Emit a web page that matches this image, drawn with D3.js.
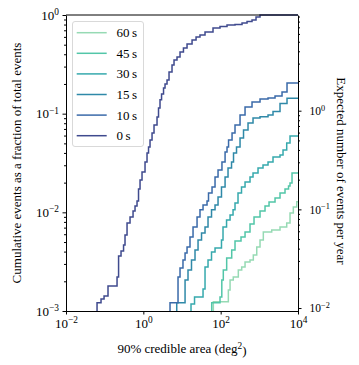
<!DOCTYPE html>
<html>
<head>
<meta charset="utf-8">
<script src="https://cdn.jsdelivr.net/npm/d3@7"></script>
<style>
  body { margin: 0; background: #fff; }
  svg text { font-family: "Liberation Serif", "DejaVu Serif", serif; fill: #000; }
</style>
</head>
<body>
<div id="chart"></div>
<script>
// cumulative fraction of events vs 90% credible area (deg^2), one step curve per pre-merger time
const labels = ["60\u2009s", "45\u2009s", "30\u2009s", "15\u2009s", "10\u2009s", "0\u2009s"];

const cdf60 = [[64.6,0.00124],[158,0.00163],[175,0.00206],[212,0.00221],[286,0.00261],[350,0.00279],[427,0.00314],[574,0.00329],[699,0.0037],[857,0.00445],[1042,0.00525],[1268,0.00632],[2090,0.00662],[3428,0.0071],[5105,0.0078],[6220,0.00985],[7570,0.0113],[9270,0.0128]];
const cdf45 = [[58.7,0.00121],[96.2,0.00139],[107,0.00206],[117,0.00261],[143,0.00345],[193,0.00415],[235,0.00513],[336,0.00562],[427,0.00632],[574,0.00762],[729,0.00897],[1042,0.0103],[1403,0.0116],[1782,0.0127],[2547,0.014],[3428,0.0157],[4616,0.0172],[5689,0.0185],[6220,0.0198],[7004,0.025]];
const cdf30 = [[17.1,0.00118],[21.1,0.00139],[35.0,0.00167],[39.4,0.00279],[47.1,0.00329],[58.0,0.00396],[71.5,0.00435],[105,0.00525],[115,0.0071],[142,0.00836],[175,0.0094],[209,0.0106],[235,0.0124],[281,0.0157],[346,0.0181],[427,0.0203],[574,0.0228],[687,0.025],[925,0.0281],[1245,0.0302],[1679,0.0324],[2259,0.0364],[3428,0.0381],[4100,0.0428],[5105,0.0504],[6220,0.0594]];
const cdf15 = [[7.31,0.00121],[12.0,0.00206],[14.3,0.00261],[17.6,0.00329],[21.7,0.00415],[26.0,0.00525],[32.0,0.00618],[39.4,0.0071],[47.1,0.00897],[58.0,0.0106],[71.5,0.0119],[85.5,0.0143],[105,0.0181],[130,0.0228],[155,0.0281],[191,0.0324],[215,0.0399],[257,0.0459],[317,0.0567],[390,0.0683],[510,0.0805],[687,0.0904],[1042,0.0932],[1679,0.097],[2259,0.105],[3428,0.127],[5200,0.143]];
const cdf10 = [[4.90,0.00121],[7.89,0.00221],[8.89,0.00273],[10.6,0.00329],[12.0,0.00387],[13.5,0.00445],[16.1,0.00562],[19.3,0.0071],[24.5,0.00897],[29.2,0.0106],[35.0,0.0119],[44.4,0.013],[48.5,0.0157],[59.8,0.0181],[71.5,0.0228],[85.5,0.0269],[108,0.0324],[130,0.0409],[146,0.0459],[160,0.0541],[197,0.0637],[235,0.0768],[317,0.097],[427,0.117],[647,0.131],[1042,0.141],[1679,0.144],[2547,0.151],[3864,0.166],[5200,0.205]];
const cdf0 = [[0.0635,0.00121],[0.0805,0.00132],[0.0964,0.00142],[0.122,0.00179],[0.209,0.00221],[0.229,0.00361],[0.265,0.00406],[0.308,0.00467],[0.336,0.00589],[0.379,0.0078],[0.453,0.00897],[0.542,0.0103],[0.61,0.0116],[0.687,0.013],[0.751,0.0172],[0.822,0.0213],[0.925,0.0256],[1.106,0.0324],[1.246,0.0399],[1.363,0.0459],[1.49,0.0541],[1.68,0.0637],[1.89,0.0768],[2.26,0.0925],[2.47,0.114],[2.70,0.138],[2.96,0.158],[3.33,0.182],[3.64,0.200],[4.10,0.219],[4.62,0.264],[5.52,0.311],[6.22,0.350],[7.43,0.375],[8.89,0.422],[10.9,0.463],[13.5,0.508],[18.2,0.558],[23.1,0.598],[29.2,0.627],[39.4,0.673],[63.4,0.738],[96.2,0.765],[146,0.792],[235,0.801],[357,0.830],[481,0.859],[647,0.890],[821,0.954],[1042,1.0]];

const curves = [cdf60, cdf45, cdf30, cdf15, cdf10, cdf0];

// total expected events per year (fraction 1 on the right axis)
const totalRate = 9.33;

const xTicks = [1e-2, 1e0, 1e2, 1e4];
const yTicks = [1e-3, 1e-2, 1e-1, 1e0];
const rateTicks = [1e-2, 1e-1, 1e0];

const colors = ["#96dab4", "#52c6a8", "#36a9ad", "#2f89a8", "#3a6aa9", "#3f4a8e"];
const serif = '"Liberation Serif", "DejaVu Serif", serif';

const margin = { top: 15, right: 61, bottom: 54, left: 66 };
const width = 359 - margin.left - margin.right;
const height = 365 - margin.top - margin.bottom;

const svg = d3.select("#chart")
    .append("svg")
    .attr("width", 359)
    .attr("height", 365)
    .attr("font-family", serif);

const g = svg.append("g")
    .attr("transform", `translate(${margin.left},${margin.top})`);

const x = d3.scaleLog().domain([1e-2, 1e4]).range([0, width]);
const y = d3.scaleLog().domain([1e-3, 1]).range([height, 0]);
const yRate = d3.scaleLog().domain([1e-3 * totalRate, totalRate]).range([height, 0]);

// 10^n labels with a raised exponent
function powLabel(sel) {
    sel.each(function(d) {
        const t = d3.select(this);
        const e = Math.round(Math.log10(d));
        t.text(null);
        t.append("tspan").text("10");
        t.append("tspan").attr("dy", "-0.5em").attr("font-size", "0.72em")
            .text(e < 0 ? "\u2212" + (-e) : String(e));
    });
}

function minorValues(lo, hi) {
    const out = [];
    for (let p = Math.floor(Math.log10(lo)); p <= Math.ceil(Math.log10(hi)); p++) {
        for (let k = 2; k <= 9; k++) {
            const v = k * Math.pow(10, p);
            if (v >= lo && v <= hi) out.push(v);
        }
    }
    return out;
}

// curves
g.append("clipPath").attr("id", "clip")
    .append("rect").attr("x", 0).attr("y", -1).attr("width", width).attr("height", height + 1);

const line = d3.line()
    .x(d => x(d[0]))
    .y(d => d[1] === 0 ? height + 3 : y(d[1]))
    .curve(d3.curveStepAfter);

const plot = g.append("g").attr("clip-path", "url(#clip)");

curves.forEach((c, i) => {
    const pts = [[c[0][0], 0]].concat(c, [[1e4, c[c.length - 1][1]]]);
    plot.append("path")
        .datum(pts)
        .attr("fill", "none")
        .attr("stroke", colors[i])
        .attr("stroke-width", 1.5)
        .attr("d", line);
});

// axes
const fontSize = 13;

const xAxis = g.append("g")
    .attr("transform", `translate(0,${height})`)
    .call(d3.axisBottom(x).tickValues(xTicks).tickSize(3.5).tickPadding(4).tickSizeOuter(0));
xAxis.selectAll("text").attr("font-size", fontSize).call(powLabel);

const yAxis = g.append("g")
    .call(d3.axisLeft(y).tickValues(yTicks).tickSize(3.5).tickPadding(3.5).tickSizeOuter(0));
yAxis.selectAll("text").attr("font-size", fontSize).call(powLabel);

g.append("g")
    .call(d3.axisLeft(y).tickValues(minorValues(1e-3, 1)).tickSize(2).tickFormat("").tickSizeOuter(0))
    .select(".domain").remove();

const rAxis = g.append("g")
    .attr("transform", `translate(${width},0)`)
    .call(d3.axisRight(yRate).tickValues(rateTicks).tickSize(3.5).tickPadding(8).tickSizeOuter(0));
rAxis.selectAll("text").attr("font-size", 11.5).call(powLabel);

g.append("g")
    .attr("transform", `translate(${width},0)`)
    .call(d3.axisRight(yRate).tickValues(minorValues(1e-3 * totalRate, totalRate)).tickSize(2).tickFormat("").tickSizeOuter(0))
    .select(".domain").remove();

g.append("line")
    .attr("x1", 0).attr("x2", width).attr("y1", 0).attr("y2", 0)
    .attr("stroke", "#000");

g.selectAll("g").attr("font-family", serif);
g.selectAll(".domain").attr("stroke", "#000");
g.selectAll(".tick line").attr("stroke", "#000");

// axis titles
const xTitle = svg.append("text")
    .attr("x", margin.left + width / 2)
    .attr("y", 353)
    .attr("text-anchor", "middle")
    .attr("font-size", fontSize);
xTitle.append("tspan").text("90% credible area (deg");
xTitle.append("tspan").attr("dy", "-0.45em").attr("font-size", "0.72em").text("2");
xTitle.append("tspan").attr("dy", "0.45em").text(")");

svg.append("text")
    .attr("transform", `translate(21,${margin.top + height / 2}) rotate(-90)`)
    .attr("text-anchor", "middle")
    .attr("font-size", fontSize)
    .text("Cumulative events as a fraction of total events");

svg.append("text")
    .attr("transform", `translate(337,171) rotate(90)`)
    .attr("text-anchor", "middle")
    .attr("font-size", fontSize)
    .text("Expected number of events per year");

// legend
const legend = svg.append("g");
legend.append("rect")
    .attr("x", 72.5).attr("y", 21.5)
    .attr("width", 71).attr("height", 125)
    .attr("rx", 2.5)
    .attr("fill", "#fff").attr("fill-opacity", 0.8)
    .attr("stroke", "#d9d9d9");

labels.forEach((lab, i) => {
    const yy = 32.7 + i * 20.6;
    legend.append("line")
        .attr("x1", 76.7).attr("x2", 106.7)
        .attr("y1", yy).attr("y2", yy)
        .attr("stroke", colors[i]).attr("stroke-width", 1.5);
    legend.append("text")
        .attr("x", 116.5).attr("y", yy)
        .attr("dy", "0.35em")
        .attr("font-size", fontSize)
        .text(lab);
});
</script>
</body>
</html>
